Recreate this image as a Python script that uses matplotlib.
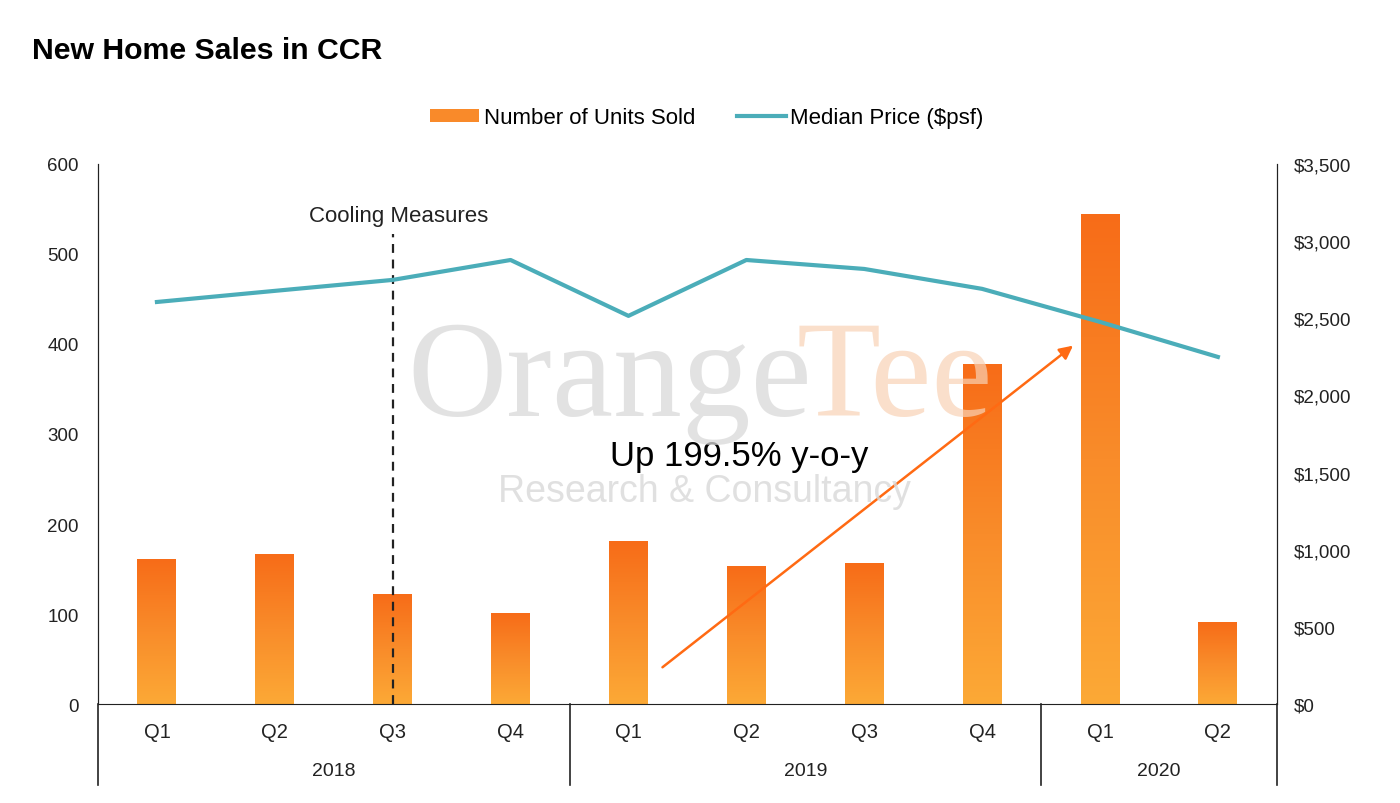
import numpy as np
import matplotlib.pyplot as plt
from matplotlib.colors import LinearSegmentedColormap
from matplotlib.patches import Patch
from matplotlib.lines import Line2D
import matplotlib.transforms as mtransforms

plt.rcParams['font.family'] = ['Liberation Sans', 'DejaVu Sans']

quarters = ['Q1', 'Q2', 'Q3', 'Q4', 'Q1', 'Q2', 'Q3', 'Q4', 'Q1', 'Q2']
years = ['2018', '2019', '2020']
year_spans = [(0, 4), (4, 8), (8, 10)]
units_sold = [161, 166, 122, 100, 180, 153, 156, 377, 544, 90]
median_price = [2605, 2677, 2748, 2877, 2515, 2877, 2819, 2690, 2476, 2249]

fig = plt.figure(figsize=(14, 8.04), dpi=100)
ax = fig.add_axes([0.07, 0.123, 0.842, 0.672])
ax2 = ax.twinx()

# gradient bars (dark orange on top, light at the bottom)
cmap = LinearSegmentedColormap.from_list('og', ['#FCA936', '#F98C2A', '#F76C18'])
grad = np.linspace(0, 1, 256).reshape(-1, 1)
x = np.arange(len(units_sold))
w = 0.33
for xi, v in zip(x, units_sold):
    ax.imshow(grad, extent=[xi - w / 2, xi + w / 2, 0, v], origin='lower',
              aspect='auto', cmap=cmap, zorder=2)

ax.set_xlim(-0.5, len(units_sold) - 0.5)
ax.set_ylim(0, 600)
ax.set_yticks(np.arange(0, 601, 100))
ax2.set_ylim(0, 3500)
ax2.set_yticks(np.arange(0, 3501, 500))
ax2.set_yticklabels(['$0'] + ['${:,}'.format(v) for v in range(500, 3501, 500)])

ax2.plot(x, median_price, color='#4BADB9', lw=3.0, zorder=3)

for a in (ax, ax2):
    a.spines['top'].set_visible(False)
    a.tick_params(length=0, labelsize=13.5, colors='#222222')
ax.tick_params(axis='y', pad=14)
ax2.tick_params(axis='y', pad=12)
ax2.spines['bottom'].set_visible(False)
for s in ('left', 'right', 'bottom'):
    ax.spines[s].set_color('#222222')
    ax2.spines[s].set_color('#222222')

ax.set_xticks(x)
ax.set_xticklabels(quarters, fontsize=14.5)
ax.tick_params(axis='x', pad=13)

# year grouping with separators
tr = mtransforms.blended_transform_factory(ax.transData, ax.transAxes)
for (a0, a1), yr in zip(year_spans, years):
    ax.text((a0 + a1 - 1) / 2, -0.123, yr, transform=tr, ha='center', va='center',
            fontsize=14, color='#222222')
for b in [-0.5, 3.5, 7.5, 9.5]:
    ax.plot([b, b], [0, -0.15], transform=tr, color='#222222', lw=1.2, clip_on=False)

# cooling measures marker
ax.plot([2, 2], [0, 522], color='#222222', lw=1.6, ls=(0, (4, 3)), zorder=4)
ax.text(2.05, 543, 'Cooling Measures', ha='center', va='center', fontsize=16, color='#222222')

# watermark
fig.text(0.291, 0.482, 'Orange', fontsize=99, family='Liberation Serif',
         color='#D9D9D9', alpha=0.75, zorder=0)
fig.text(0.569, 0.482, 'Tee', fontsize=99, family='Liberation Serif',
         color='#F8D2B6', alpha=0.7, zorder=0)
fig.text(0.503, 0.388, 'Research & Consultancy', fontsize=27, ha='center', va='center',
         color='#D9D9D9', alpha=0.8, zorder=0)

# growth arrow
ax.annotate('', xy=(7.79, 400), xytext=(4.27, 39),
            arrowprops=dict(arrowstyle='-|>', color='#FF6A13', lw=1.8, mutation_scale=20),
            zorder=5)
ax.text(3.84, 276, 'Up 199.5% y-o-y', fontsize=25, va='center', ha='left', color='black')

fig.text(0.023, 0.937, 'New Home Sales in CCR', fontsize=21.8, fontweight='bold', va='center')

handles = [Patch(facecolor='#F98A2A', edgecolor='none'),
           Line2D([0], [0], color='#4BADB9', lw=3.0)]
fig.legend(handles, ['Number of Units Sold', 'Median Price ($psf)'], loc='center',
           bbox_to_anchor=(0.505, 0.852), ncol=2, frameon=False, fontsize=16,
           handlelength=2.2, handleheight=0.5, columnspacing=1.9, handletextpad=0.2)

plt.savefig('out.png', dpi=100)
